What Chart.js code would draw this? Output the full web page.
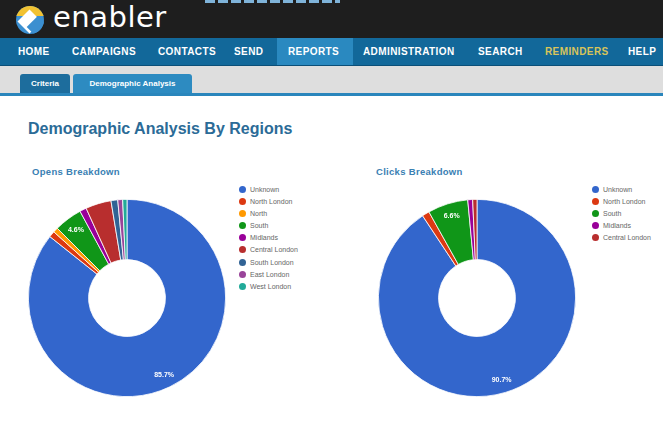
<!DOCTYPE html>
<html>
<head>
<meta charset="utf-8">
<script src="https://cdn.jsdelivr.net/npm/chart.js@4.4.1/dist/chart.umd.min.js"></script>
<style>
    body { margin: 0; width: 663px; height: 423px; overflow: hidden; background: #fff; font-family: "Liberation Sans", Arial, sans-serif; position: relative; }
    #top { position: absolute; left: 0; top: 0; width: 663px; height: 38px; background: #1e1e1e; }
    #strip { position: absolute; left: 205px; top: 0; width: 135px; height: 3px; background: repeating-linear-gradient(90deg, #7fb3d9 0 10px, #1e1e1e 10px 13px); }
    #logo { position: absolute; left: 16px; top: 6px; width: 28px; height: 28px; border-radius: 50%; overflow: hidden; background: #3b8fd0; }
    #logo .y { position: absolute; left: 0; top: 0; width: 28px; height: 10px; background: #f1c232; }
    #logo .w { position: absolute; left: 5px; top: 7px; width: 17px; height: 17px; background: #fff; transform: rotate(45deg); }
    #logo .b { position: absolute; left: 14px; top: 13px; width: 16px; height: 16px; background: #3b8fd0; transform: rotate(45deg); }
    #brand { position: absolute; left: 53px; top: 0px; color: #fff; font-family: "DejaVu Sans", sans-serif; font-size: 29px; letter-spacing: 0.5px; }
    #nav { position: absolute; left: 0; top: 38px; width: 663px; height: 27px; background: #12689a; border-bottom: 1px solid #0b4f78; }
    #nav span { position: absolute; top: 8px; color: #fff; font-weight: bold; font-size: 10px; letter-spacing: 0.4px; }
    #nav .act { position: absolute; left: 277px; top: 0; width: 76px; height: 27px; background: #2a89c0; }
    #sub { position: absolute; left: 0; top: 66px; width: 663px; height: 27px; background: #dedede; border-bottom: 3px solid #2a86bc; }
    .tab { position: absolute; top: 8px; height: 19px; color: #fff; font-weight: bold; font-size: 8px; line-height: 19px; text-align: center; border-radius: 3px 3px 0 0; }
    #title { position: absolute; left: 28px; top: 120px; color: #2b6b97; font-weight: bold; font-size: 16px; }
    .ctitle { position: absolute; top: 166px; color: #3a80b3; font-weight: bold; font-size: 9.5px; letter-spacing: 0.3px; }
    canvas { position: absolute; }
    .legend { position: absolute; top: 185px; font-size: 7px; color: #666; }
    .legend div { height: 12.1px; line-height: 10px; white-space: nowrap; }
    .legend i { display: inline-block; width: 7px; height: 7px; border-radius: 50%; margin-right: 4px; vertical-align: -1px; }
</style>
</head>
<body>
<div id="top"><div id="strip"></div>
    <div id="logo"><div class="y"></div><div class="w"></div><div class="b"></div></div>
    <div id="brand">enabler</div>
</div>
<div id="nav">
    <div class="act"></div>
    <span style="left:18px">HOME</span>
    <span style="left:72px">CAMPAIGNS</span>
    <span style="left:158px">CONTACTS</span>
    <span style="left:234px">SEND</span>
    <span style="left:288px">REPORTS</span>
    <span style="left:363px">ADMINISTRATION</span>
    <span style="left:478px">SEARCH</span>
    <span style="left:545px;color:#d8c45a">REMINDERS</span>
    <span style="left:628px">HELP</span>
</div>
<div id="sub">
    <div class="tab" style="left:20px;width:50px;background:#1d6d9d">Criteria</div>
    <div class="tab" style="left:73px;width:119px;background:#2d8bc1">Demographic Analysis</div>
</div>
<div id="title">Demographic Analysis By Regions</div>
<div class="ctitle" style="left:32px">Opens Breakdown</div>
<div class="ctitle" style="left:376px">Clicks Breakdown</div>
<canvas id="opens" width="198" height="198" style="left:28px;top:199px"></canvas>
<canvas id="clicks" width="198" height="198" style="left:378px;top:199px"></canvas>
<div class="legend" id="opens-legend" style="left:239px"></div>
<div class="legend" id="clicks-legend" style="left:592px"></div>
<script>
// opens by region (percent)
const opensLabels = ['Unknown', 'North London', 'North', 'South', 'Midlands', 'Central London', 'South London', 'East London', 'West London'];
const opensValues = [85.7, 1.0, 0.8, 4.6, 1.1, 4.2, 1.1, 0.8, 0.7];
const opensColors = ['#3366cc', '#dc3912', '#ff9900', '#109618', '#990099', '#b82e2e', '#316395', '#994499', '#22aa99'];

// clicks by region (percent)
const clicksLabels = ['Unknown', 'North London', 'South', 'Midlands', 'Central London'];
const clicksValues = [90.7, 1.2, 6.6, 0.8, 0.7];
const clicksColors = ['#3366cc', '#dc3912', '#109618', '#990099', '#b82e2e'];

// white percent labels on the bigger slices, like google charts
const sliceLabels = {
    id: 'sliceLabels',
    afterDatasetsDraw(chart) {
        const ctx = chart.ctx;
        const meta = chart.getDatasetMeta(0);
        const data = chart.data.datasets[0].data;
        const total = data.reduce((a, b) => a + b, 0);
        ctx.save();
        ctx.fillStyle = '#fff';
        ctx.font = 'bold 7px "Liberation Sans", Arial, sans-serif';
        ctx.textAlign = 'center';
        ctx.textBaseline = 'middle';
        meta.data.forEach(function (arc, i) {
            const pct = data[i] / total * 100;
            if (pct < 4.5) return;
            const p = arc.getProps(['x', 'y', 'startAngle', 'endAngle', 'innerRadius', 'outerRadius'], true);
            const a = (p.startAngle + p.endAngle) / 2;
            const r = p.innerRadius + (p.outerRadius - p.innerRadius) * 0.78;
            ctx.fillText(pct.toFixed(1) + '%', p.x + Math.cos(a) * r, p.y + Math.sin(a) * r);
        });
        ctx.restore();
    }
};

function makeDonut(id, labels, values, colors) {
    const chart = new Chart(document.getElementById(id), {
        type: 'doughnut',
        data: {
            labels: labels,
            datasets: [{
                data: values,
                backgroundColor: colors,
                borderColor: '#fff',
                borderWidth: 0.8
            }]
        },
        options: {
            responsive: false,
            animation: false,
            cutout: '39%',
            layout: { padding: 0 },
            plugins: {
                legend: { display: false },
                tooltip: { enabled: false }
            }
        },
        plugins: [sliceLabels]
    });
    // legend built from the chart's own data
    let html = '';
    chart.data.labels.forEach(function (lab, i) {
        html += '<div><i style="background:' + chart.data.datasets[0].backgroundColor[i] + '"></i>' + lab + '</div>';
    });
    document.getElementById(id + '-legend').innerHTML = html;
}

makeDonut('opens', opensLabels, opensValues, opensColors);
makeDonut('clicks', clicksLabels, clicksValues, clicksColors);
</script>
</body>
</html>
